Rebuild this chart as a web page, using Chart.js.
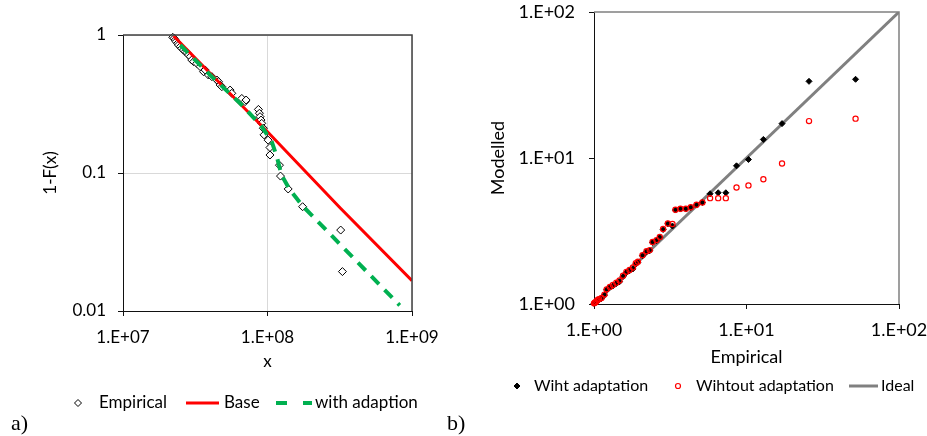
<!DOCTYPE html>
<html>
<head>
<meta charset="utf-8">
<script src="https://cdn.jsdelivr.net/npm/chart.js@4.4.1/dist/chart.umd.min.js"></script>
<style>
  html, body { margin: 0; padding: 0; background: #fff; }
  body { width: 927px; height: 436px; position: relative; overflow: hidden; }
  .panel { position: absolute; top: 0; height: 436px; }
  #panelA { left: 0; width: 460px; }
  #panelB { left: 460px; width: 467px; }
  .tag { position: absolute; font-family: 'Liberation Serif', serif; font-size: 22px; line-height: 22px; color: #000; }
</style>
</head>
<body>
<div class="panel" id="panelA"><canvas id="chartA"></canvas></div>
<div class="panel" id="panelB"><canvas id="chartB"></canvas></div>
<div class="tag" style="left:11px; top:412px;">a)</div>
<div class="tag" style="left:447px; top:412px;">b)</div>
<script>
// a) exceedance probability 1-F(x)
const empiricalX = [2.21e7, 2.26e7, 2.30e7, 2.33e7, 2.39e7, 2.42e7, 2.49e7, 2.55e7, 2.62e7, 2.69e7,
  2.77e7, 2.84e7, 2.92e7, 2.99e7, 3.08e7, 3.24e7, 3.42e7, 3.61e7, 3.70e7, 3.90e7,
  4.12e7, 4.46e7, 4.58e7, 4.70e7, 4.83e7, 5.51e7, 5.66e7, 6.64e7, 7.00e7, 7.11e7,
  8.65e7, 8.79e7, 8.88e7, 9.02e7, 9.12e7, 9.36e7, 9.46e7, 1.01e8, 1.04e8, 1.04e8,
  1.21e8, 1.23e8, 1.39e8, 1.75e8, 3.21e8, 3.30e8];
const empiricalP = [0.962, 0.946, 0.920, 0.895, 0.870, 0.846, 0.823, 0.800, 0.778, 0.757,
  0.745, 0.716, 0.697, 0.659, 0.641, 0.623, 0.590, 0.542, 0.558, 0.513,
  0.499, 0.472, 0.459, 0.434, 0.422, 0.399, 0.378, 0.347, 0.329, 0.338,
  0.289, 0.271, 0.256, 0.242, 0.229, 0.211, 0.189, 0.173, 0.153, 0.135,
  0.114, 0.095, 0.0766, 0.057, 0.0386, 0.0193];
const baseX = [2.24e7, 1e8, 3.2e8, 1e9];
const baseP = [0.983, 0.199, 0.0555, 0.0166];
const adaptX = [2.49e7, 4.01e7, 6.64e7, 9.12e7, 1.07e8, 1.16e8, 1.25e8, 1.43e8, 1.77e8, 8.22e8];
const adaptP = [0.846, 0.513, 0.311, 0.217, 0.169, 0.131, 0.0968, 0.0753, 0.057, 0.011];
const xTicksA = [1e7, 1e8, 1e9];
const yTicksA = [0.01, 0.1, 1];

// b) modelled vs empirical
const qqEmpirical = [1.0, 1.01, 1.025, 1.04, 1.06, 1.08, 1.12, 1.17, 1.21, 1.27,
  1.33, 1.40, 1.47, 1.55, 1.63, 1.71, 1.80, 1.88, 1.94, 2.08,
  2.21, 2.32, 2.42, 2.57, 2.70, 2.84, 3.05, 3.27, 3.42, 3.69,
  4.0, 4.31, 4.70, 5.14, 5.77, 6.52, 7.32, 8.6, 10.3, 12.9,
  17.1, 25.7, 51.9];
const qqWith = [1.01, 1.015, 1.026, 1.04, 1.065, 1.07, 1.09, 1.15, 1.25, 1.30,
  1.33, 1.38, 1.42, 1.54, 1.64, 1.69, 1.74, 1.88, 1.93, 2.14,
  2.28, 2.32, 2.64, 2.71, 2.86, 3.24, 3.54, 3.42, 4.40, 4.47,
  4.47, 4.58, 4.76, 4.96, 5.69, 5.78, 5.78, 8.84, 9.77, 13.4,
  17.2, 33.5, 34.6];
const qqWithout = [1.01, 1.02, 1.03, 1.05, 1.07, 1.08, 1.10, 1.16, 1.26, 1.31,
  1.35, 1.40, 1.45, 1.56, 1.66, 1.71, 1.78, 1.90, 1.95, 2.16,
  2.30, 2.34, 2.66, 2.74, 2.88, 3.26, 3.56, 3.53, 4.42, 4.49,
  4.49, 4.60, 4.78, 4.96, 5.31, 5.31, 5.31, 6.28, 6.49, 7.16,
  9.17, 17.9, 18.6];
const idealXY = [1, 100];
const ticksB = [1, 10, 100];

const FONT = 'Lato';
Chart.defaults.font.family = FONT;
Chart.defaults.color = '#000';

const pts = (xs, ys) => xs.map((x, i) => ({ x: x, y: ys[i] }));
const sci = v => '1.E+' + String(Math.round(Math.log10(v))).padStart(2, '0');

// frame around the plot area (top and right sides)
const plotBox = {
  id: 'plotBox',
  afterDatasetsDraw(chart, args, opts) {
    const a = chart.chartArea;
    const ctx = chart.ctx;
    ctx.save();
    ctx.strokeStyle = opts.color;
    ctx.lineWidth = opts.width;
    ctx.beginPath();
    ctx.moveTo(a.left, a.top);
    ctx.lineTo(a.right, a.top);
    ctx.lineTo(a.right, a.bottom);
    ctx.stroke();
    ctx.restore();
  }
};

// one-row legend under the chart, text and styles taken from the datasets
const legendRow = {
  id: 'legendRow',
  afterDraw(chart, args, opts) {
    const ctx = chart.ctx;
    ctx.save();
    ctx.font = opts.size + 'px ' + FONT;
    ctx.textBaseline = 'middle';
    opts.items.forEach(item => {
      const ds = chart.data.datasets[item.dataset];
      if (item.line) {
        ctx.strokeStyle = ds.borderColor;
        ctx.lineWidth = ds.borderWidth;
        ctx.setLineDash(item.dash || []);
        ctx.beginPath();
        ctx.moveTo(item.line[0], opts.y);
        ctx.lineTo(item.line[1], opts.y);
        ctx.stroke();
        ctx.setLineDash([]);
      } else {
        ctx.fillStyle = ds.pointBackgroundColor;
        ctx.strokeStyle = ds.pointBorderColor;
        ctx.lineWidth = ds.pointBorderWidth;
        Chart.helpers.drawPoint(ctx, { pointStyle: ds.pointStyle, radius: item.radius, rotation: 0, borderWidth: ds.pointBorderWidth }, item.marker, opts.y);
      }
      ctx.fillStyle = '#000';
      ctx.fillText(ds.label, item.textX, opts.y);
    });
    ctx.restore();
  }
};

// fixed axis size, and no extra room for overhanging edge labels
function fixSize(key, value) {
  return s => {
    s[key] = value;
    s.paddingTop = 0; s.paddingBottom = 0; s.paddingLeft = 0; s.paddingRight = 0;
  };
}

function logAxis(min, max, ticks, fmt, size, pad, extra) {
  return Object.assign({
    type: 'logarithmic',
    min: min,
    max: max,
    afterBuildTicks: s => { s.ticks = ticks.map(v => ({ value: v })); },
    ticks: { callback: fmt, font: { size: size }, color: '#000', padding: pad, autoSkip: false, maxRotation: 0 },
    border: { color: '#111', width: 1 }
  }, extra);
}

new Chart(document.getElementById('chartA'), {
  type: 'scatter',
  data: {
    datasets: [
      { label: 'with adaption', data: pts(adaptX, adaptP), showLine: true, borderColor: '#00b050',
        borderWidth: 4, borderDash: [11, 8], pointRadius: 0, order: 0 },
      { label: 'Base', data: pts(baseX, baseP), showLine: true, borderColor: '#ff0000',
        borderWidth: 3, pointRadius: 0, order: 1 },
      { label: 'Empirical', data: pts(empiricalX, empiricalP), pointStyle: 'rectRot', pointRadius: 4,
        pointBackgroundColor: '#fff', pointBorderColor: '#000', pointBorderWidth: 1, clip: false, order: 2 }
    ]
  },
  options: {
    responsive: true,
    maintainAspectRatio: false,
    animation: false,
    layout: { padding: { top: 35, right: 48, left: 0, bottom: 0 } },
    plugins: {
      legend: { display: false },
      tooltip: { enabled: false },
      plotBox: { color: '#404040', width: 1.5 },
      legendRow: {
        y: 403, size: 17,
        items: [
          { dataset: 2, marker: 78, radius: 3.5, textX: 99 },
          { dataset: 1, line: [186, 219], textX: 224 },
          { dataset: 0, line: [276, 312], dash: [11, 16], textX: 315 }
        ]
      }
    },
    scales: {
      x: logAxis(1e7, 1e9, xTicksA, sci, 17, 11, {
        afterFit: fixSize('height', 125),
        grid: { color: '#d9d9d9', tickColor: '#111', tickLength: 5 },
        title: { display: true, text: 'x', font: { size: 17 }, color: '#000', padding: { top: 0, bottom: 64 } }
      }),
      y: logAxis(0.01, 1, yTicksA, v => String(v), 17, 12, {
        afterFit: fixSize('width', 123),
        grid: { color: '#d9d9d9', tickColor: '#111', tickLength: 5 },
        title: { display: true, text: '1-F(x)', font: { size: 17 }, color: '#000', padding: { top: 40, bottom: 0 } }
      })
    }
  },
  plugins: [plotBox, legendRow]
});

new Chart(document.getElementById('chartB'), {
  type: 'scatter',
  data: {
    datasets: [
      { label: 'Wihtout adaptation', data: pts(qqEmpirical, qqWithout), pointStyle: 'circle', pointRadius: 2.6,
        pointBackgroundColor: 'rgba(255,255,255,0)', pointBorderColor: '#ff0000', pointBorderWidth: 1.2, clip: false, order: 0 },
      { label: 'Wiht adaptation', data: pts(qqEmpirical, qqWith), pointStyle: 'rectRot', pointRadius: 3,
        pointBackgroundColor: '#000', pointBorderColor: '#000', pointBorderWidth: 1, clip: false, order: 1 },
      { label: 'Ideal', data: pts(idealXY, idealXY), showLine: true, borderColor: '#808080',
        borderWidth: 3, pointRadius: 0, order: 2 }
    ]
  },
  options: {
    responsive: true,
    maintainAspectRatio: false,
    animation: false,
    layout: { padding: { top: 12, right: 28, left: 0, bottom: 0 } },
    plugins: {
      legend: { display: false },
      tooltip: { enabled: false },
      plotBox: { color: '#808080', width: 1.5 },
      legendRow: {
        y: 386, size: 16,
        items: [
          { dataset: 1, marker: 57, radius: 3, textX: 74 },
          { dataset: 0, marker: 218, radius: 2.5, textX: 236 },
          { dataset: 2, line: [389, 418], textX: 421 }
        ]
      }
    },
    scales: {
      x: logAxis(1, 100, ticksB, sci, 18, 10, {
        afterFit: fixSize('height', 132),
        grid: { drawOnChartArea: false, tickColor: '#111', tickLength: 5 },
        title: { display: true, text: 'Empirical', font: { size: 18 }, color: '#000', padding: { top: 0, bottom: 68 } }
      }),
      y: logAxis(1, 100, ticksB, sci, 18, 14, {
        afterFit: fixSize('width', 134),
        grid: { drawOnChartArea: false, tickColor: '#111', tickLength: 5 },
        title: { display: true, text: 'Modelled', font: { size: 18 }, color: '#000', padding: { top: 27, bottom: 0 } }
      })
    }
  },
  plugins: [plotBox, legendRow]
});
</script>
</body>
</html>
